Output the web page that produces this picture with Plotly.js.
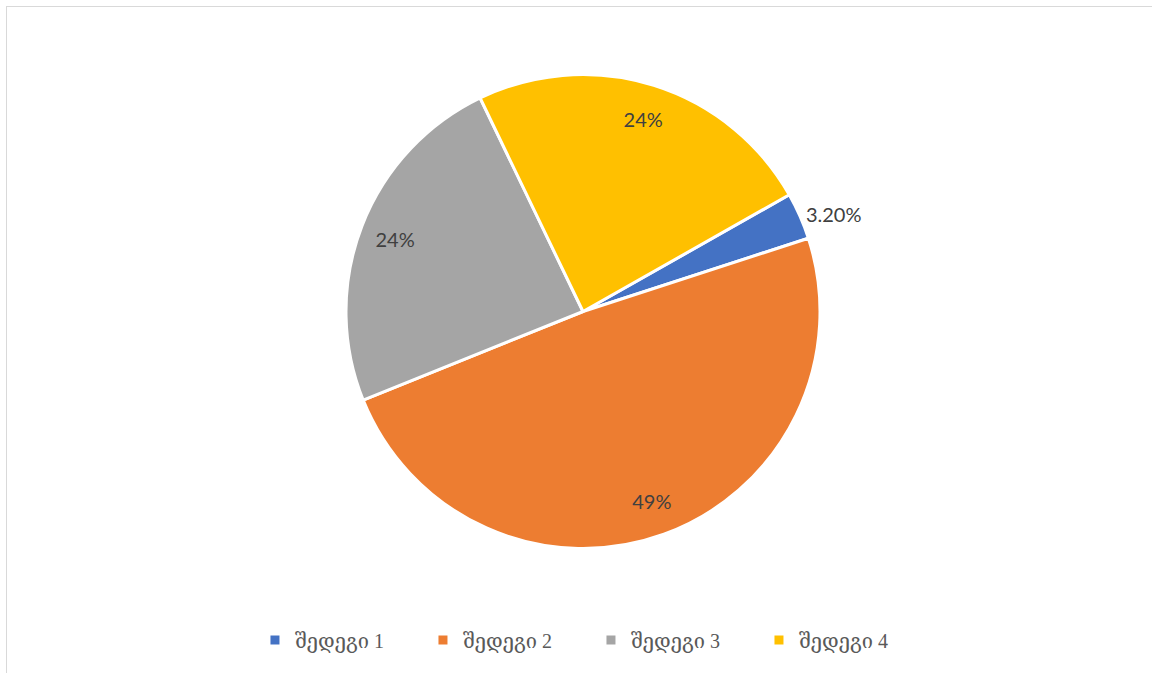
<!DOCTYPE html>
<html>
<head>
<meta charset="utf-8">
<script src="https://cdn.plot.ly/plotly-3.0.1.min.js"></script>
<style>
  html, body { margin: 0; padding: 0; background: #ffffff; overflow: hidden; }
  #frame { position: absolute; left: 6px; top: 6px; width: 1300px; height: 800px; border: 1.5px solid #d9d9d9; box-sizing: border-box; }
  #chart { position: absolute; left: 0; top: 0; width: 1152px; height: 673px; }
</style>
</head>
<body>
<div id="frame"></div>
<div id="chart"></div>
<script>
const categories = ['შედეგი 1', 'შედეგი 2', 'შედეგი 3', 'შედეგი 4'];
const values = [3.2, 49, 24, 24];
const dataLabels = ['3.20%', '49%', '24%', '24%'];
const colors = ['#4472c4', '#ed7d31', '#a5a5a5', '#ffc000'];

const W = 1152, H = 673;
const cx = 583, cy = 311.5, R = 237;
const domain = {
  x: [(cx - R) / W, (cx + R) / W],
  y: [(H - cy - R) / H, (H - cy + R) / H]
};

const pie = {
  type: 'pie',
  labels: categories,
  values: values,
  sort: false,
  direction: 'clockwise',
  rotation: 60.5,
  marker: { colors: colors, line: { color: '#ffffff', width: 3 } },
  textinfo: 'none',
  hoverinfo: 'label+percent',
  domain: domain,
  showlegend: true
};

const labelRing = {
  type: 'pie',
  labels: categories,
  values: values,
  sort: false,
  direction: 'clockwise',
  rotation: 60.5,
  hole: 0.7,
  marker: { colors: ['rgba(0,0,0,0)', 'rgba(0,0,0,0)', 'rgba(0,0,0,0)', 'rgba(0,0,0,0)'], line: { width: 0 } },
  text: dataLabels,
  textinfo: 'text',
  textposition: ['outside', 'inside', 'inside', 'inside'],
  insidetextorientation: 'horizontal',
  textfont: { family: 'Lato, "Open Sans", sans-serif', size: 20, color: '#404040' },
  outsidetextfont: { family: 'Lato, "Open Sans", sans-serif', size: 20, color: '#404040' },
  hoverinfo: 'skip',
  domain: domain,
  showlegend: false
};

const layout = {
  width: W,
  height: H,
  margin: { l: 0, r: 0, t: 0, b: 0 },
  paper_bgcolor: 'rgba(0,0,0,0)',
  plot_bgcolor: 'rgba(0,0,0,0)',
  showlegend: true,
  legend: {
    orientation: 'h',
    x: 0.513,
    xanchor: 'center',
    y: (H - 640) / H,
    yanchor: 'middle',
    entrywidth: 123,
    entrywidthmode: 'pixels',
    font: { family: '"Liberation Serif", "DejaVu Serif", serif', size: 20, color: '#595959' },
    bgcolor: 'rgba(0,0,0,0)'
  }
};

Plotly.newPlot('chart', [pie, labelRing], layout, { displayModeBar: false, staticPlot: true });
</script>
</body>
</html>
